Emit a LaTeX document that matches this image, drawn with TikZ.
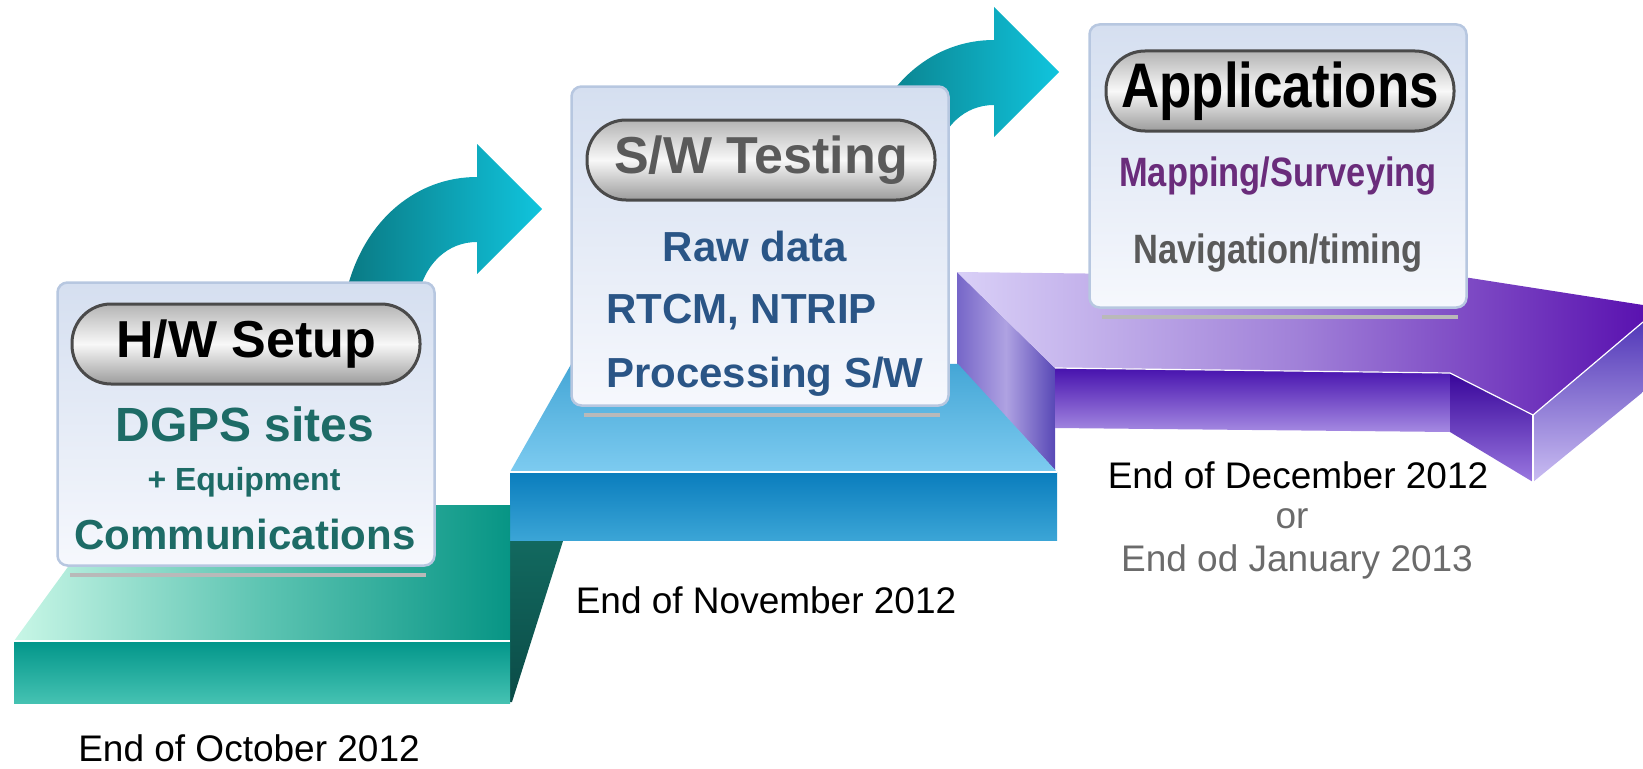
\documentclass[tikz,border=0pt]{standalone}
\usepackage{fontspec}
\setmainfont{Liberation Sans}
\newfontfamily\narrowfont[FakeStretch=0.84]{Liberation Sans}
\usetikzlibrary{positioning}

\definecolor{tealtopL}{HTML}{C8F6E6}
\definecolor{tealtopM}{HTML}{5DC4B2}
\definecolor{tealtopR}{HTML}{079585}
\definecolor{tealfrontT}{HTML}{02968A}
\definecolor{tealfrontB}{HTML}{45C2B2}
\definecolor{tealwallT}{HTML}{12695F}
\definecolor{tealwallB}{HTML}{0B4B47}
\definecolor{bluetopT}{HTML}{3EA2D3}
\definecolor{bluetopB}{HTML}{7DCBF0}
\definecolor{bluefrontT}{HTML}{0A7DBD}
\definecolor{bluefrontB}{HTML}{3BA5D6}
\definecolor{purptopL}{HTML}{D9D0F7}
\definecolor{purptopM}{HTML}{A080D8}
\definecolor{purptopR}{HTML}{5A12B0}
\definecolor{purpfrontT}{HTML}{4712AE}
\definecolor{purpfrontB}{HTML}{A58AE2}
\definecolor{purpdarkT}{HTML}{38059A}
\definecolor{purpdarkB}{HTML}{9A78E0}
\definecolor{purprightT}{HTML}{5238B8}
\definecolor{purprightB}{HTML}{CABDF2}
\definecolor{wallL}{HTML}{7666C8}
\definecolor{wallM}{HTML}{AFA2E2}
\definecolor{wallR}{HTML}{5848B6}
\definecolor{arrowD}{HTML}{0A7A84}
\definecolor{arrowL}{HTML}{10C4DD}
\definecolor{cardedge}{HTML}{B7C7E0}
\definecolor{cardtop}{HTML}{D5DFF0}
\definecolor{cardbot}{HTML}{F6F8FD}
\definecolor{pilledge}{HTML}{4A4A4A}
\definecolor{pilltop}{HTML}{B4B4B4}
\definecolor{pillmid}{HTML}{F8F8F8}
\definecolor{pillbot}{HTML}{9C9C9C}
\definecolor{txtteal}{HTML}{1D6B66}
\definecolor{txtblue}{HTML}{2A5586}
\definecolor{txtpurple}{HTML}{6A2C7B}
\definecolor{txtgray}{HTML}{5A5A5A}
\definecolor{dategray}{HTML}{6B6B6B}

\tikzset{
  card/.style={draw=cardedge, line width=2.5pt, rounded corners=10pt,
    top color=cardtop, bottom color=cardbot, minimum width=377pt, inner sep=0pt},
  cardshadow/.style={draw=gray!55, line width=4pt},
  pill/.style={draw=pilledge, line width=3pt, rounded corners=39pt,
    minimum width=348pt, minimum height=80pt, inner sep=0pt,
    top color=pilltop, bottom color=pillbot, middle color=pillmid},
  title/.style={font=\fontsize{52}{56}\selectfont\bfseries},
  item/.style={font=\fontsize{42}{46}\selectfont\bfseries, inner sep=0pt},
  narrowitem/.style={font=\narrowfont\fontsize{41}{45}\selectfont\bfseries, inner sep=0pt},
  date/.style={font=\fontsize{37}{40}\selectfont, inner sep=0pt},
  edgeline/.style={draw=white!75, line width=1.2pt},
  bendarrow/.pic={
    \shade[left color=arrowD, right color=arrowL]
      (0,-65) -- (65,0) -- (0,65) -- (0,33)
      .. controls (-30,33) and (-50,55) .. (-57,80) -- (-130,80)
      .. controls (-112,10) and (-60,-32) .. (0,-32) -- cycle;
  }
}

\begin{document}
\begin{tikzpicture}[x=1pt,y=-1pt]
\useasboundingbox (0,0) rectangle (1643,768);

% third step: purple arrow slab
\shade[left color=wallL, right color=wallR, middle color=wallM]
  (957,272) -- (1055,368) -- (1055,470) -- (957,364) -- cycle;
\shade[left color=purptopL, right color=purptopR, middle color=purptopM]
  (957,272) -- (1470,278) -- (1643,305) -- (1643,322) -- (1533,415)
  -- (1450,373) -- (1055,368) -- cycle;
\shade[top color=purpfrontT, bottom color=purpfrontB]
  (1055,368) -- (1450,373) -- (1450,432) -- (1055,428) -- cycle;
\shade[top color=purpdarkT, bottom color=purpdarkB]
  (1450,373) -- (1533,415) -- (1533,482) -- (1450,432) -- cycle;
\shade[top color=purprightT, bottom color=purprightB]
  (1533,415) -- (1643,322) -- (1643,392) -- (1533,482) -- cycle;
\draw[edgeline] (1055,368) -- (1450,373) -- (1533,415) -- (1643,322);
\draw[edgeline] (1533,415) -- (1533,482);

\pic at (994,72) {bendarrow};

% second step: blue slab
\shade[top color=bluetopT, bottom color=bluetopB]
  (510,472) -- (1057,472) -- (958,364) -- (578,352) -- cycle;
\shade[top color=bluefrontT, bottom color=bluefrontB]
  (510,472) rectangle (1057,540);
\draw[edgeline] (510,472) -- (1057,472);

% first step: teal slab
\shade[top color=tealwallT, bottom color=tealwallB]
  (510,541) -- (563,541) -- (512,702) -- (510,702) -- cycle;
\shade[left color=tealtopL, right color=tealtopR, middle color=tealtopM]
  (14,641) -- (510,641) -- (510,505) -- (113,505) -- cycle;
\shade[top color=tealfrontT, bottom color=tealfrontB]
  (14,641) rectangle (510,703);
\draw[edgeline] (14,641) -- (510,641);

\pic at (477,209) {bendarrow};

% cards
\node[card, minimum height=283pt] (hw) at (246,424) {};
\node[card, minimum height=319pt] (sw) at (760,246) {};
\node[card, minimum height=283pt] (app) at (1278,166) {};
\draw[cardshadow] ([xshift=14pt,yshift=-8pt]hw.south west) -- ([xshift=-10pt,yshift=-8pt]hw.south east);
\draw[cardshadow] ([xshift=14pt,yshift=-8pt]sw.south west) -- ([xshift=-10pt,yshift=-8pt]sw.south east);
\draw[cardshadow] ([xshift=14pt,yshift=-8pt]app.south west) -- ([xshift=-10pt,yshift=-8pt]app.south east);

\node[pill, title] (hwtitle) at (246,344) {H/W Setup};
\node[pill, title, text=txtgray] (swtitle) at (761,160) {S/W Testing};
\node[pill, font=\narrowfont\fontsize{63}{66}\selectfont\bfseries] (apptitle) at (1280,91) {Applications};

\node[item, text=txtteal, font=\fontsize{48}{52}\selectfont\bfseries] (dgps) at (245,424) {DGPS sites};
\node[item, text=txtteal, font=\fontsize{32}{36}\selectfont\bfseries] (equip) at (244,482) {+ Equipment};
\node[item, text=txtteal] (comm) at (245,534) {Communications};

\node[item, text=txtblue] (raw) at (755,246) {Raw data};
\node[item, text=txtblue, anchor=west] (rtcm) at (606,312) {RTCM, NTRIP};
\node[item, text=txtblue, anchor=west] (proc) at (606,377) {Processing S/W};

\node[narrowitem, text=txtpurple] (map) at (1278,176) {Mapping/Surveying};
\node[narrowitem, text=txtgray] (nav) at (1278,253) {Navigation/timing};

% dates
\node[date] (oct) at (249,748) {End of October 2012};
\node[date] (nov) at (766,600) {End of November 2012};
\node[date] (dec) at (1298,475) {End of December 2012};
\node[date, text=dategray] (or) at (1292,519) {or};
\node[date, text=dategray] (jan) at (1297,562) {End od January 2013};
\end{tikzpicture}
\end{document}
